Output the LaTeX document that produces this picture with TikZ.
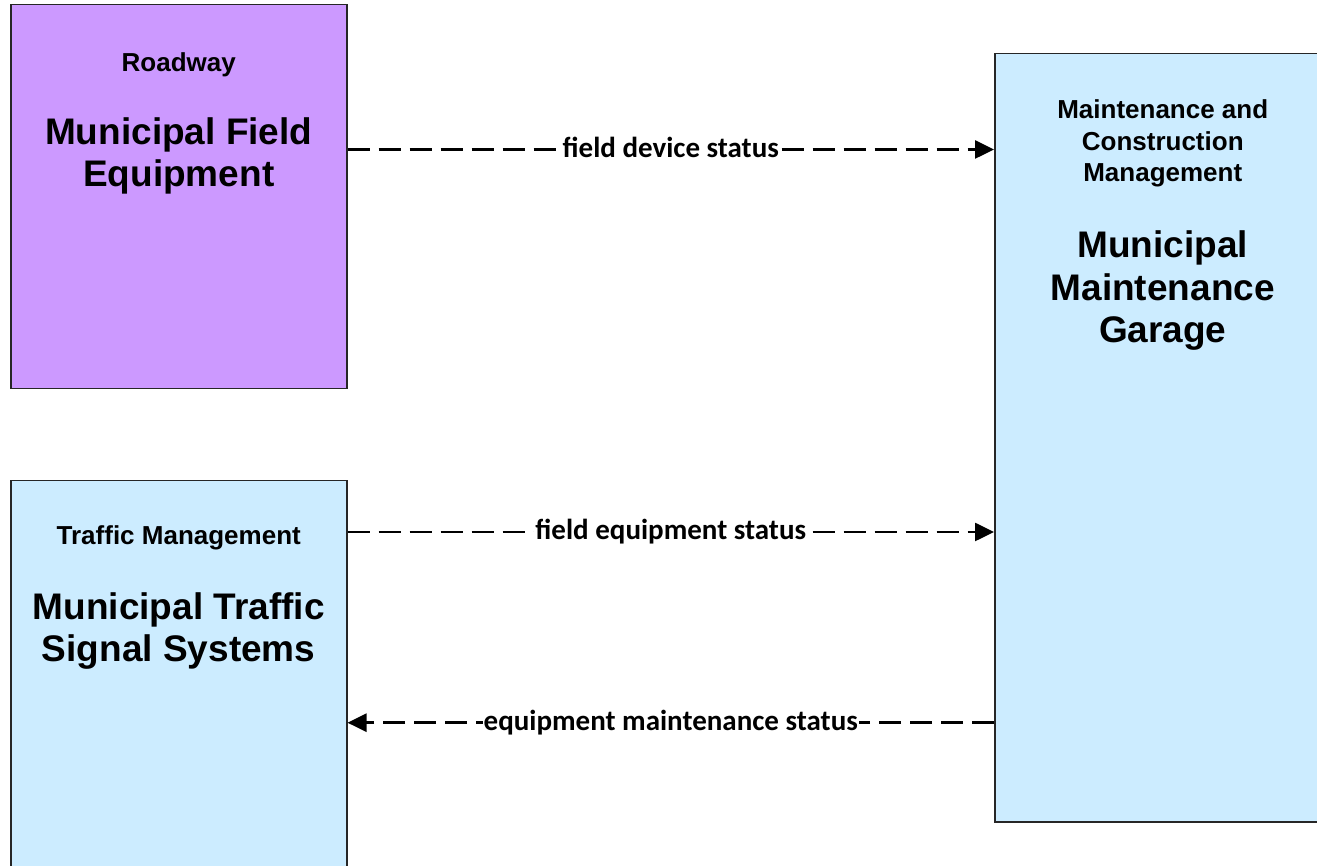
\documentclass[tikz,border=0pt]{standalone}
\usepackage{fontspec}
\setmainfont{Liberation Sans}
\newfontfamily\flowfont{Carlito}
\usetikzlibrary{arrows.meta}
\definecolor{roadpurple}{HTML}{CC99FF}
\definecolor{centerblue}{HTML}{CCECFF}

\begin{document}
\begin{tikzpicture}[x=1pt,y=1pt,
  box/.style={draw=black!85, line width=1.5pt, anchor=north west, minimum width=336pt, inner sep=0pt},
  cat/.style={font=\fontsize{26}{31.5}\selectfont\bfseries, align=center, anchor=base},
  title/.style={font=\fontsize{37}{42.5}\selectfont\bfseries, align=center, anchor=base},
  flow/.style={line width=2.6pt, dash pattern=on 22pt off 9pt, -{Triangle[length=19pt,width=18pt]}},
  flowlbl/.style={fill=white, inner xsep=1pt, inner ysep=0pt, text height=20pt, text depth=4pt,
    font=\flowfont\fontsize{29}{29}\selectfont\bfseries}]
  \clip (0,0) rectangle (1317,865);

  \node[box, fill=roadpurple, minimum height=384pt] (field) at (10,861) {};
  \node[box, fill=centerblue, minimum height=395pt] (tms) at (10,385) {};
  \node[box, fill=centerblue, minimum height=768pt] (garage) at (994,812) {};

  \node[cat] (fieldcat) at ([yshift=-68]field.north) {Roadway};
  \node[title] (fieldname) at ([yshift=-183]field.north) {Municipal Field\\Equipment};
  \node[cat] (tmscat) at ([yshift=-65]tms.north) {Traffic Management};
  \node[title] (tmsname) at ([yshift=-182]tms.north) {Municipal Traffic\\Signal Systems};
  \node[cat] (garagecat) at ([yshift=-129]garage.north) {Maintenance and\\Construction\\Management};
  \node[title] (garagename) at ([yshift=-290]garage.north) {Municipal\\Maintenance\\Garage};

  \coordinate (fdsout) at ([yshift=-145.5]field.north east);
  \coordinate (fesout) at ([yshift=-52]tms.north east);
  \coordinate (emsin) at ([yshift=-242.7]tms.north east);

  \draw[flow] (fdsout) -- (fdsout -| garage.west) node[flowlbl, midway] (fdslbl) {field device status};
  \draw[flow] (fesout) -- (fesout -| garage.west) node[flowlbl, midway] (feslbl) {field equipment status};
  \draw[flow] (emsin -| garage.west) -- (emsin) node[flowlbl, midway] (emslbl) {equipment maintenance status};
\end{tikzpicture}
\end{document}
